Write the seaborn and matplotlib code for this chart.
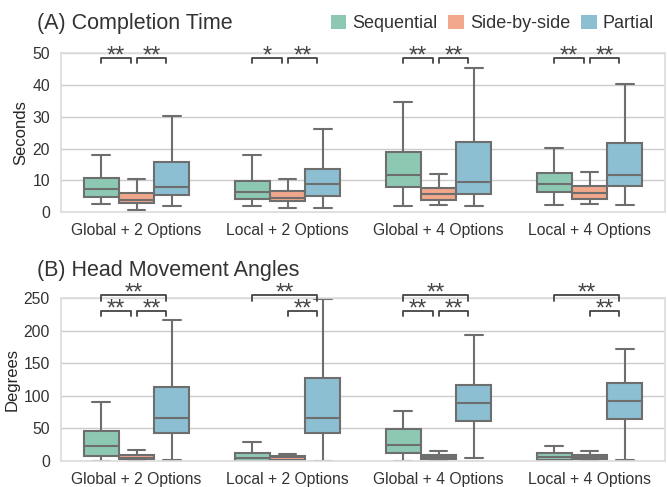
import numpy as np
import pandas as pd
import matplotlib
matplotlib.use("Agg")
import matplotlib.pyplot as plt
from matplotlib.patches import Patch
import seaborn as sns

# categories / conditions
conditions = ["Global + 2 Options", "Local + 2 Options", "Global + 4 Options", "Local + 4 Options"]
techniques = ["Sequential", "Side-by-side", "Partial"]
colors = ["#8dc9b2", "#f1a78c", "#8cbfd1"]

# five-number summaries (min, q1, median, q3, max)
# (A) completion time, seconds
time_seq = [[2.4, 4.8, 7.2, 10.6, 17.8], [1.9, 4.0, 6.2, 9.7, 18.1],
            [1.8, 7.8, 11.7, 18.9, 34.6], [2.1, 6.2, 8.8, 12.4, 20.3]]
time_sbs = [[0.6, 2.7, 3.8, 5.9, 10.3], [1.2, 3.4, 4.3, 6.5, 10.5],
            [2.1, 3.9, 5.6, 7.7, 12.1], [2.5, 4.1, 6.0, 8.2, 12.6]]
time_par = [[1.8, 5.4, 8.0, 15.7, 30.1], [1.2, 5.1, 8.7, 13.6, 26.2],
            [1.9, 5.7, 9.6, 22.1, 45.5], [2.1, 8.1, 11.5, 21.7, 40.4]]

# (B) head movement angles, degrees
angle_seq = [[0.0, 8.2, 22.5, 46.6, 91.2], [0.0, 0.5, 4.1, 12.8, 28.7],
             [0.0, 12.3, 24.6, 49.7, 77.4], [0.5, 1.5, 6.7, 12.3, 22.5]]
angle_sbs = [[0.5, 2.6, 5.1, 8.7, 16.4], [0.5, 2.0, 6.1, 7.7, 11.3],
             [0.5, 2.6, 5.6, 8.7, 15.4], [0.5, 2.6, 6.7, 8.7, 15.9]]
angle_par = [[1.0, 43.5, 66.6, 114.2, 216.7], [0.5, 43.5, 66.6, 127.0, 249.0],
             [4.1, 62.0, 89.1, 116.3, 194.2], [1.0, 64.5, 91.7, 120.4, 172.1]]

# significance marks: (condition, left technique, right technique, stars, level)
sig_time = [(0, 0, 1, "**", 0), (0, 1, 2, "**", 0),
            (1, 0, 1, "*", 0), (1, 1, 2, "**", 0),
            (2, 0, 1, "**", 0), (2, 1, 2, "**", 0),
            (3, 0, 1, "**", 0), (3, 1, 2, "**", 0)]
sig_angle = [(0, 0, 1, "**", 0), (0, 1, 2, "**", 0), (0, 0, 2, "**", 1),
             (1, 1, 2, "**", 0), (1, 0, 2, "**", 1),
             (2, 0, 1, "**", 0), (2, 1, 2, "**", 0), (2, 0, 2, "**", 1),
             (3, 1, 2, "**", 0), (3, 0, 2, "**", 1)]


def to_long(seq, sbs, par):
    rows = []
    for tech, series in zip(techniques, [seq, sbs, par]):
        for cond, vals in zip(conditions, series):
            for v in vals:
                rows.append({"Condition": cond, "Technique": tech, "Value": v})
    return pd.DataFrame(rows)


sns.set_theme(style="whitegrid")
plt.rcParams["font.family"] = ["Liberation Sans", "DejaVu Sans"]

fig = plt.figure(figsize=(6.67, 4.87), dpi=100)
ax1 = fig.add_axes([0.0915, 0.5647, 0.9055, 0.3259])
ax2 = fig.add_axes([0.0915, 0.0534, 0.9055, 0.3341])

width = 0.7
offsets = [-width / 3, 0, width / 3]


def draw(ax, df, ymax, ylabel, title, sigs, bracket, pad):
    sns.boxplot(data=df, x="Condition", y="Value", hue="Technique",
                order=conditions, hue_order=techniques, palette=colors,
                saturation=1, width=width, whis=(0, 100), showfliers=False,
                linecolor="#6e6e6e", linewidth=1.5, ax=ax, legend=False)
    ax.set_ylim(0, ymax)
    ax.set_xlim(-0.5, 3.5)
    ax.set_xlabel("")
    ax.set_ylabel(ylabel, fontsize=12, labelpad=3)
    ax.tick_params(labelsize=11.3, pad=2, colors="#333333")
    ax.set_title(title, loc="left", x=-0.04, pad=pad, fontsize=15.5,
                 color="#333333")
    for s in ax.spines.values():
        s.set_color("#dddddd")
    for cond, a, b, stars, lvl in sigs:
        x1 = cond + offsets[a]
        x2 = cond + offsets[b] - 0.035
        top, leg, txt = bracket[lvl]
        ax.plot([x1, x1, x2, x2], [leg, top, top, leg], color="#444444",
                lw=1.3, clip_on=False, zorder=5)
        ax.text((x1 + x2) / 2, txt, stars, ha="center", va="baseline",
                fontsize=17, color="#444444", clip_on=False)


draw(ax1, to_long(time_seq, time_sbs, time_par), 50, "Seconds",
     "(A) Completion Time", sig_time, {0: (48.4, 46.8, 47.0)}, 17.5)
draw(ax2, to_long(angle_seq, angle_sbs, angle_par), 250, "Degrees",
     "(B) Head Movement Angles", sig_angle,
     {0: (230.5, 223, 223), 1: (255, 246, 247.5)}, 16)

ax1.set_yticks([0, 10, 20, 30, 40, 50])
ax2.set_yticks([0, 50, 100, 150, 200, 250])

handles = [Patch(facecolor=c, edgecolor="none", label=t)
           for c, t in zip(colors, techniques)]
fig.legend(handles=handles, loc="upper right", bbox_to_anchor=(1.005, 1.003),
           ncol=3, frameon=False, fontsize=13, handlelength=0.85,
           handleheight=0.85, handletextpad=0.35, columnspacing=0.6,
           labelcolor="#333333")

fig.savefig("out.png", dpi=100)
